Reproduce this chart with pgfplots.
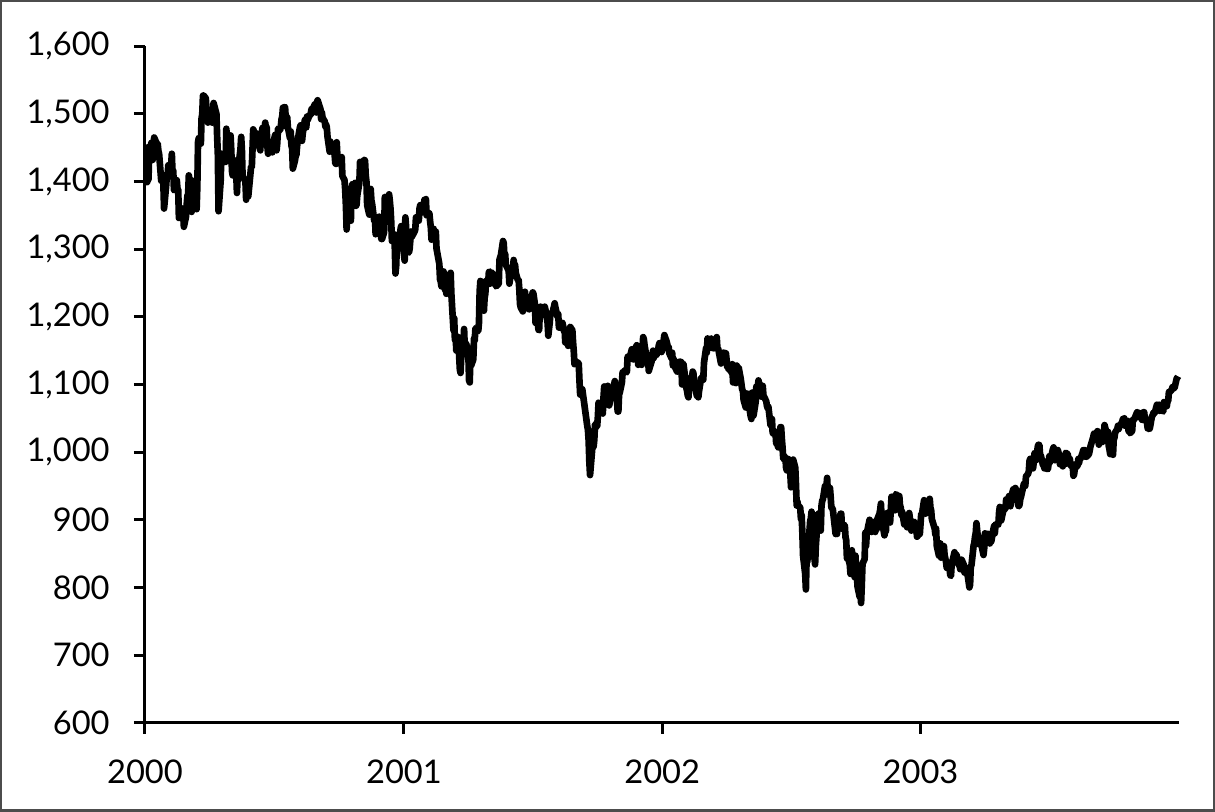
\documentclass[border=0pt]{standalone}
\usepackage{fontspec}
\setmainfont{Lato}
\usepackage{pgfplots}
\pgfplotsset{compat=1.18}
\usepgfplotslibrary{dateplot}

\begin{document}
\begin{tikzpicture}
\draw[line width=0.25mm, black!70] (0,0) rectangle (121.5mm,81.1mm);
\begin{axis}[
    at={(14.4mm,8.8mm)}, anchor=south west,
    scale only axis,
    width=103.6mm, height=67.8mm,
    date coordinates in=x,
    xmin=2000-01-01, xmax=2004-01-01,
    ymin=600, ymax=1600,
    xtick={2000-01-01,2001-01-01,2002-01-01,2003-01-01},
    xticklabel=\year,
    ytick={600,700,...,1600},
    axis lines=left,
    axis line style={-, line width=0.85pt},
    tick align=outside,
    major tick length=1.1mm,
    tick style={line width=0.85pt, black},
    tick label style={font=\fontsize{9.3}{11}\selectfont},
    yticklabel style={xshift=-1.2mm, /pgf/number format/1000 sep={,}, /pgf/number format/assume math mode=true},
    xticklabel style={yshift=-1.4mm},
    clip=false,
]
\addplot[black, line width=1.9pt, line join=round] table[x=date, y=v] {
date v
2000-01-03 1455
2000-01-04 1399
2000-01-05 1402
2000-01-06 1403
2000-01-07 1441
2000-01-10 1457
2000-01-11 1438
2000-01-12 1432
2000-01-13 1449
2000-01-14 1465
2000-01-18 1455
2000-01-19 1456
2000-01-20 1445
2000-01-21 1441
2000-01-24 1401
2000-01-25 1410
2000-01-26 1404
2000-01-27 1398
2000-01-28 1360
2000-01-31 1394
2000-02-01 1409
2000-02-02 1409
2000-02-03 1424
2000-02-04 1424
2000-02-07 1424
2000-02-08 1441
2000-02-09 1411
2000-02-10 1416
2000-02-11 1387
2000-02-14 1389
2000-02-15 1402
2000-02-16 1388
2000-02-17 1388
2000-02-18 1346
2000-02-22 1353
2000-02-23 1360
2000-02-24 1353
2000-02-25 1333
2000-02-28 1348
2000-02-29 1366
2000-03-01 1379
2000-03-02 1381
2000-03-03 1409
2000-03-06 1391
2000-03-07 1355
2000-03-08 1366
2000-03-09 1401
2000-03-10 1395
2000-03-13 1383
2000-03-14 1359
2000-03-15 1392
2000-03-16 1458
2000-03-17 1464
2000-03-20 1456
2000-03-21 1493
2000-03-22 1500
2000-03-23 1527
2000-03-24 1527
2000-03-27 1523
2000-03-28 1507
2000-03-29 1508
2000-03-30 1487
2000-03-31 1499
2000-04-03 1505
2000-04-04 1494
2000-04-05 1487
2000-04-06 1501
2000-04-07 1516
2000-04-10 1504
2000-04-11 1500
2000-04-12 1467
2000-04-13 1440
2000-04-14 1356
2000-04-17 1401
2000-04-18 1441
2000-04-19 1427
2000-04-20 1434
2000-04-24 1429
2000-04-25 1478
2000-04-26 1461
2000-04-27 1464
2000-04-28 1452
2000-05-01 1468
2000-05-02 1446
2000-05-03 1415
2000-05-04 1409
2000-05-05 1432
2000-05-08 1424
2000-05-09 1412
2000-05-10 1383
2000-05-11 1407
2000-05-12 1421
2000-05-15 1448
2000-05-16 1466
2000-05-17 1447
2000-05-18 1406
2000-05-19 1406
2000-05-22 1400
2000-05-23 1373
2000-05-24 1400
2000-05-25 1381
2000-05-26 1378
2000-05-30 1422
2000-05-31 1421
2000-06-01 1448
2000-06-02 1477
2000-06-05 1467
2000-06-06 1458
2000-06-07 1471
2000-06-08 1462
2000-06-09 1457
2000-06-12 1446
2000-06-13 1470
2000-06-14 1470
2000-06-15 1479
2000-06-16 1464
2000-06-19 1487
2000-06-20 1478
2000-06-21 1480
2000-06-22 1452
2000-06-23 1441
2000-06-26 1455
2000-06-27 1450
2000-06-28 1455
2000-06-29 1443
2000-06-30 1455
2000-07-03 1469
2000-07-05 1446
2000-07-06 1457
2000-07-07 1478
2000-07-10 1476
2000-07-11 1481
2000-07-12 1492
2000-07-13 1496
2000-07-14 1509
2000-07-17 1510
2000-07-18 1493
2000-07-19 1481
2000-07-20 1495
2000-07-21 1480
2000-07-24 1464
2000-07-25 1474
2000-07-26 1453
2000-07-27 1449
2000-07-28 1419
2000-07-31 1431
2000-08-01 1438
2000-08-02 1439
2000-08-03 1452
2000-08-04 1462
2000-08-07 1480
2000-08-08 1483
2000-08-09 1472
2000-08-10 1460
2000-08-11 1471
2000-08-14 1491
2000-08-15 1484
2000-08-16 1480
2000-08-17 1496
2000-08-18 1491
2000-08-21 1499
2000-08-22 1498
2000-08-23 1505
2000-08-24 1508
2000-08-25 1507
2000-08-28 1514
2000-08-29 1510
2000-08-30 1502
2000-08-31 1517
2000-09-01 1520
2000-09-05 1507
2000-09-06 1492
2000-09-07 1502
2000-09-08 1494
2000-09-11 1489
2000-09-12 1481
2000-09-13 1484
2000-09-14 1480
2000-09-15 1466
2000-09-18 1444
2000-09-19 1459
2000-09-20 1451
2000-09-21 1449
2000-09-22 1449
2000-09-25 1440
2000-09-26 1427
2000-09-27 1426
2000-09-28 1458
2000-09-29 1436
2000-10-02 1436
2000-10-03 1426
2000-10-04 1434
2000-10-05 1436
2000-10-06 1408
2000-10-09 1402
2000-10-10 1387
2000-10-11 1364
2000-10-12 1329
2000-10-13 1374
2000-10-16 1374
2000-10-17 1349
2000-10-18 1342
2000-10-19 1389
2000-10-20 1396
2000-10-23 1395
2000-10-24 1398
2000-10-25 1364
2000-10-26 1365
2000-10-27 1379
2000-10-30 1398
2000-10-31 1429
2000-11-01 1421
2000-11-02 1428
2000-11-03 1427
2000-11-06 1432
2000-11-07 1431
2000-11-08 1409
2000-11-09 1400
2000-11-10 1365
2000-11-13 1351
2000-11-14 1382
2000-11-15 1389
2000-11-16 1372
2000-11-17 1367
2000-11-20 1342
2000-11-21 1348
2000-11-22 1322
2000-11-24 1341
2000-11-27 1348
2000-11-28 1337
2000-11-29 1342
2000-11-30 1315
2000-12-01 1315
2000-12-04 1325
2000-12-05 1377
2000-12-06 1352
2000-12-07 1344
2000-12-08 1370
2000-12-11 1381
2000-12-12 1372
2000-12-13 1360
2000-12-14 1341
2000-12-15 1312
2000-12-18 1322
2000-12-19 1305
2000-12-20 1264
2000-12-21 1275
2000-12-22 1305
2000-12-26 1315
2000-12-27 1328
2000-12-28 1334
2000-12-29 1320
2001-01-02 1283
2001-01-03 1347
2001-01-04 1334
2001-01-05 1298
2001-01-08 1295
2001-01-09 1300
2001-01-10 1313
2001-01-11 1326
2001-01-12 1318
2001-01-16 1326
2001-01-17 1329
2001-01-18 1347
2001-01-19 1342
2001-01-22 1342
2001-01-23 1360
2001-01-24 1365
2001-01-25 1357
2001-01-26 1354
2001-01-29 1364
2001-01-30 1373
2001-01-31 1366
2001-02-01 1374
2001-02-02 1350
2001-02-05 1354
2001-02-06 1352
2001-02-07 1341
2001-02-08 1332
2001-02-09 1314
2001-02-12 1330
2001-02-13 1319
2001-02-14 1315
2001-02-15 1326
2001-02-16 1301
2001-02-20 1278
2001-02-21 1255
2001-02-22 1252
2001-02-23 1245
2001-02-26 1267
2001-02-27 1257
2001-02-28 1240
2001-03-01 1242
2001-03-02 1234
2001-03-05 1242
2001-03-06 1253
2001-03-07 1262
2001-03-08 1265
2001-03-09 1234
2001-03-12 1180
2001-03-13 1198
2001-03-14 1166
2001-03-15 1173
2001-03-16 1150
2001-03-19 1170
2001-03-20 1142
2001-03-21 1122
2001-03-22 1117
2001-03-23 1140
2001-03-26 1152
2001-03-27 1182
2001-03-28 1153
2001-03-29 1147
2001-03-30 1160
2001-04-02 1146
2001-04-03 1106
2001-04-04 1103
2001-04-05 1151
2001-04-06 1128
2001-04-09 1137
2001-04-10 1168
2001-04-11 1165
2001-04-12 1183
2001-04-16 1179
2001-04-17 1191
2001-04-18 1238
2001-04-19 1253
2001-04-20 1242
2001-04-23 1224
2001-04-24 1209
2001-04-25 1228
2001-04-26 1234
2001-04-27 1253
2001-04-30 1249
2001-05-01 1266
2001-05-02 1267
2001-05-03 1249
2001-05-04 1266
2001-05-07 1263
2001-05-08 1261
2001-05-09 1255
2001-05-10 1255
2001-05-11 1245
2001-05-14 1248
2001-05-15 1249
2001-05-16 1284
2001-05-17 1288
2001-05-18 1291
2001-05-21 1312
2001-05-22 1309
2001-05-23 1289
2001-05-24 1293
2001-05-25 1277
2001-05-29 1268
2001-05-30 1249
2001-05-31 1256
2001-06-01 1260
2001-06-04 1267
2001-06-05 1284
2001-06-06 1271
2001-06-07 1277
2001-06-08 1265
2001-06-11 1254
2001-06-12 1255
2001-06-13 1241
2001-06-14 1219
2001-06-15 1214
2001-06-18 1208
2001-06-19 1212
2001-06-20 1226
2001-06-21 1237
2001-06-22 1226
2001-06-25 1218
2001-06-26 1216
2001-06-27 1211
2001-06-28 1226
2001-06-29 1224
2001-07-02 1236
2001-07-03 1234
2001-07-05 1219
2001-07-06 1191
2001-07-09 1198
2001-07-10 1181
2001-07-11 1180
2001-07-12 1208
2001-07-13 1215
2001-07-16 1203
2001-07-17 1214
2001-07-18 1208
2001-07-19 1215
2001-07-20 1210
2001-07-23 1191
2001-07-24 1172
2001-07-25 1182
2001-07-26 1191
2001-07-27 1205
2001-07-30 1205
2001-07-31 1211
2001-08-01 1215
2001-08-02 1220
2001-08-03 1214
2001-08-06 1200
2001-08-07 1204
2001-08-08 1184
2001-08-09 1184
2001-08-10 1191
2001-08-13 1191
2001-08-14 1186
2001-08-15 1179
2001-08-16 1182
2001-08-17 1162
2001-08-20 1171
2001-08-21 1157
2001-08-22 1166
2001-08-23 1162
2001-08-24 1185
2001-08-27 1180
2001-08-28 1162
2001-08-29 1149
2001-08-30 1130
2001-08-31 1134
2001-09-04 1132
2001-09-05 1131
2001-09-06 1106
2001-09-07 1085
2001-09-10 1093
2001-09-17 1039
2001-09-18 1033
2001-09-19 1017
2001-09-20 985
2001-09-21 966
2001-09-24 1004
2001-09-25 1013
2001-09-26 1008
2001-09-27 1018
2001-09-28 1041
2001-10-01 1038
2001-10-02 1052
2001-10-03 1073
2001-10-04 1070
2001-10-05 1072
2001-10-08 1063
2001-10-09 1057
2001-10-10 1081
2001-10-11 1097
2001-10-12 1092
2001-10-15 1090
2001-10-16 1098
2001-10-17 1077
2001-10-18 1069
2001-10-19 1074
2001-10-22 1090
2001-10-23 1085
2001-10-24 1085
2001-10-25 1100
2001-10-26 1105
2001-10-29 1079
2001-10-30 1060
2001-10-31 1060
2001-11-01 1085
2001-11-02 1088
2001-11-05 1103
2001-11-06 1118
2001-11-07 1116
2001-11-08 1119
2001-11-09 1121
2001-11-12 1118
2001-11-13 1140
2001-11-14 1142
2001-11-15 1142
2001-11-16 1139
2001-11-19 1152
2001-11-20 1142
2001-11-21 1137
2001-11-23 1151
2001-11-26 1158
2001-11-27 1150
2001-11-28 1129
2001-11-29 1140
2001-11-30 1139
2001-12-03 1129
2001-12-04 1144
2001-12-05 1170
2001-12-06 1167
2001-12-07 1158
2001-12-10 1139
2001-12-11 1136
2001-12-12 1137
2001-12-13 1120
2001-12-14 1124
2001-12-17 1134
2001-12-18 1142
2001-12-19 1150
2001-12-20 1139
2001-12-21 1144
2001-12-24 1144
2001-12-26 1149
2001-12-27 1157
2001-12-28 1161
2001-12-31 1148
2002-01-02 1154
2002-01-03 1165
2002-01-04 1173
2002-01-07 1164
2002-01-08 1160
2002-01-09 1155
2002-01-10 1156
2002-01-11 1146
2002-01-14 1139
2002-01-15 1147
2002-01-16 1128
2002-01-17 1138
2002-01-18 1128
2002-01-22 1119
2002-01-23 1129
2002-01-24 1133
2002-01-25 1134
2002-01-28 1133
2002-01-29 1100
2002-01-30 1114
2002-01-31 1130
2002-02-01 1122
2002-02-04 1095
2002-02-05 1091
2002-02-06 1084
2002-02-07 1081
2002-02-08 1096
2002-02-11 1111
2002-02-12 1107
2002-02-13 1119
2002-02-14 1117
2002-02-15 1104
2002-02-19 1083
2002-02-20 1097
2002-02-21 1081
2002-02-22 1090
2002-02-25 1110
2002-02-26 1109
2002-02-27 1109
2002-02-28 1107
2002-03-01 1132
2002-03-04 1154
2002-03-05 1147
2002-03-06 1168
2002-03-07 1158
2002-03-08 1165
2002-03-11 1168
2002-03-12 1166
2002-03-13 1154
2002-03-14 1153
2002-03-15 1166
2002-03-18 1165
2002-03-19 1170
2002-03-20 1152
2002-03-21 1153
2002-03-22 1148
2002-03-25 1131
2002-03-26 1138
2002-03-27 1145
2002-03-28 1147
2002-04-01 1146
2002-04-02 1136
2002-04-03 1125
2002-04-04 1126
2002-04-05 1122
2002-04-08 1125
2002-04-09 1117
2002-04-10 1130
2002-04-11 1103
2002-04-12 1111
2002-04-15 1102
2002-04-16 1128
2002-04-17 1126
2002-04-18 1124
2002-04-19 1125
2002-04-22 1108
2002-04-23 1100
2002-04-24 1092
2002-04-25 1091
2002-04-26 1077
2002-04-29 1066
2002-04-30 1077
2002-05-01 1087
2002-05-02 1086
2002-05-03 1073
2002-05-06 1053
2002-05-07 1049
2002-05-08 1088
2002-05-09 1074
2002-05-10 1054
2002-05-13 1074
2002-05-14 1097
2002-05-15 1092
2002-05-16 1096
2002-05-17 1106
2002-05-20 1092
2002-05-21 1082
2002-05-22 1086
2002-05-23 1098
2002-05-24 1084
2002-05-28 1075
2002-05-29 1068
2002-05-30 1065
2002-05-31 1067
2002-06-03 1040
2002-06-04 1040
2002-06-05 1049
2002-06-06 1029
2002-06-07 1027
2002-06-10 1030
2002-06-11 1013
2002-06-12 1020
2002-06-13 1010
2002-06-14 1007
2002-06-17 1037
2002-06-18 1037
2002-06-19 1020
2002-06-20 1007
2002-06-21 990
2002-06-24 993
2002-06-25 977
2002-06-26 973
2002-06-27 990
2002-06-28 990
2002-07-01 968
2002-07-02 948
2002-07-03 953
2002-07-05 989
2002-07-08 977
2002-07-09 952
2002-07-10 921
2002-07-11 927
2002-07-12 921
2002-07-15 918
2002-07-16 901
2002-07-17 907
2002-07-18 881
2002-07-19 847
2002-07-22 820
2002-07-23 797
2002-07-24 843
2002-07-25 838
2002-07-26 852
2002-07-29 898
2002-07-30 902
2002-07-31 912
2002-08-01 885
2002-08-02 865
2002-08-05 834
2002-08-06 860
2002-08-07 876
2002-08-08 906
2002-08-09 909
2002-08-12 904
2002-08-13 884
2002-08-14 920
2002-08-15 928
2002-08-16 930
2002-08-19 950
2002-08-20 937
2002-08-21 949
2002-08-22 962
2002-08-23 940
2002-08-26 947
2002-08-27 934
2002-08-28 918
2002-08-29 917
2002-08-30 916
2002-09-03 879
2002-09-04 893
2002-09-05 879
2002-09-06 894
2002-09-09 902
2002-09-10 909
2002-09-11 909
2002-09-12 887
2002-09-13 889
2002-09-16 892
2002-09-17 874
2002-09-18 870
2002-09-19 843
2002-09-20 846
2002-09-23 834
2002-09-24 820
2002-09-25 840
2002-09-26 855
2002-09-27 827
2002-09-30 815
2002-10-01 847
2002-10-02 828
2002-10-03 819
2002-10-04 801
2002-10-07 786
2002-10-08 799
2002-10-09 777
2002-10-10 804
2002-10-11 835
2002-10-14 842
2002-10-15 881
2002-10-16 861
2002-10-17 880
2002-10-18 885
2002-10-21 900
2002-10-22 890
2002-10-23 896
2002-10-24 882
2002-10-25 897
2002-10-28 890
2002-10-29 882
2002-10-30 890
2002-10-31 886
2002-11-01 901
2002-11-04 909
2002-11-05 915
2002-11-06 924
2002-11-07 903
2002-11-08 895
2002-11-11 877
2002-11-12 883
2002-11-13 882
2002-11-14 905
2002-11-15 910
2002-11-18 901
2002-11-19 896
2002-11-20 915
2002-11-21 934
2002-11-22 930
2002-11-25 932
2002-11-26 914
2002-11-27 938
2002-11-29 936
2002-12-02 935
2002-12-03 921
2002-12-04 918
2002-12-05 907
2002-12-06 912
2002-12-09 893
2002-12-10 905
2002-12-11 905
2002-12-12 902
2002-12-13 889
2002-12-16 910
2002-12-17 902
2002-12-18 892
2002-12-19 884
2002-12-20 896
2002-12-23 897
2002-12-24 892
2002-12-26 889
2002-12-27 875
2002-12-30 879
2002-12-31 879
2003-01-02 909
2003-01-03 908
2003-01-06 929
2003-01-07 922
2003-01-08 909
2003-01-09 927
2003-01-10 927
2003-01-13 926
2003-01-14 931
2003-01-15 918
2003-01-16 914
2003-01-17 901
2003-01-21 887
2003-01-22 878
2003-01-23 887
2003-01-24 861
2003-01-27 847
2003-01-28 858
2003-01-29 865
2003-01-30 844
2003-01-31 856
2003-02-03 861
2003-02-04 848
2003-02-05 843
2003-02-06 838
2003-02-07 829
2003-02-10 835
2003-02-11 829
2003-02-12 818
2003-02-13 817
2003-02-14 834
2003-02-18 852
2003-02-19 846
2003-02-20 837
2003-02-21 848
2003-02-24 833
2003-02-25 839
2003-02-26 827
2003-02-27 837
2003-02-28 841
2003-03-03 834
2003-03-04 822
2003-03-05 829
2003-03-06 822
2003-03-07 829
2003-03-10 808
2003-03-11 800
2003-03-12 804
2003-03-13 831
2003-03-14 833
2003-03-17 862
2003-03-18 866
2003-03-19 875
2003-03-20 880
2003-03-21 895
2003-03-24 864
2003-03-25 874
2003-03-26 870
2003-03-27 869
2003-03-28 863
2003-03-31 848
2003-04-01 858
2003-04-02 880
2003-04-03 876
2003-04-04 879
2003-04-07 879
2003-04-08 878
2003-04-09 865
2003-04-10 871
2003-04-11 868
2003-04-14 886
2003-04-15 891
2003-04-16 880
2003-04-17 893
2003-04-21 893
2003-04-22 911
2003-04-23 919
2003-04-24 911
2003-04-25 899
2003-04-28 914
2003-04-29 917
2003-04-30 917
2003-05-01 916
2003-05-02 930
2003-05-05 926
2003-05-06 935
2003-05-07 930
2003-05-08 920
2003-05-09 933
2003-05-12 945
2003-05-13 942
2003-05-14 939
2003-05-15 947
2003-05-16 944
2003-05-19 921
2003-05-20 920
2003-05-21 923
2003-05-22 931
2003-05-23 934
2003-05-27 953
2003-05-28 953
2003-05-29 950
2003-05-30 964
2003-06-02 968
2003-06-03 972
2003-06-04 987
2003-06-05 990
2003-06-06 988
2003-06-09 976
2003-06-10 985
2003-06-11 998
2003-06-12 999
2003-06-13 988
2003-06-16 1010
2003-06-17 1011
2003-06-18 1010
2003-06-19 995
2003-06-20 995
2003-06-23 981
2003-06-24 983
2003-06-25 976
2003-06-26 986
2003-06-27 976
2003-06-30 975
2003-07-01 983
2003-07-02 994
2003-07-03 985
2003-07-07 1004
2003-07-08 1007
2003-07-09 1002
2003-07-10 988
2003-07-11 998
2003-07-14 1003
2003-07-15 999
2003-07-16 994
2003-07-17 982
2003-07-18 994
2003-07-21 979
2003-07-22 988
2003-07-23 989
2003-07-24 982
2003-07-25 999
2003-07-28 997
2003-07-29 990
2003-07-30 987
2003-07-31 990
2003-08-01 980
2003-08-04 982
2003-08-05 965
2003-08-06 967
2003-08-07 975
2003-08-08 977
2003-08-11 980
2003-08-12 990
2003-08-13 984
2003-08-14 990
2003-08-15 990
2003-08-18 999
2003-08-19 1003
2003-08-20 1000
2003-08-21 1003
2003-08-22 993
2003-08-25 994
2003-08-26 997
2003-08-27 997
2003-08-28 1002
2003-08-29 1008
2003-09-02 1022
2003-09-03 1027
2003-09-04 1028
2003-09-05 1021
2003-09-08 1031
2003-09-09 1024
2003-09-10 1011
2003-09-11 1017
2003-09-12 1019
2003-09-15 1015
2003-09-16 1030
2003-09-17 1026
2003-09-18 1040
2003-09-19 1036
2003-09-22 1022
2003-09-23 1030
2003-09-24 1009
2003-09-25 1004
2003-09-26 997
2003-09-29 1006
2003-09-30 996
2003-10-01 1019
2003-10-02 1021
2003-10-03 1029
2003-10-06 1034
2003-10-07 1039
2003-10-08 1034
2003-10-09 1039
2003-10-10 1039
2003-10-13 1045
2003-10-14 1049
2003-10-15 1046
2003-10-16 1050
2003-10-17 1039
2003-10-20 1044
2003-10-21 1046
2003-10-22 1031
2003-10-23 1033
2003-10-24 1028
2003-10-27 1031
2003-10-28 1047
2003-10-29 1049
2003-10-30 1048
2003-10-31 1051
2003-11-03 1059
2003-11-04 1053
2003-11-05 1052
2003-11-06 1058
2003-11-07 1053
2003-11-10 1048
2003-11-11 1047
2003-11-12 1059
2003-11-13 1059
2003-11-14 1050
2003-11-17 1044
2003-11-18 1035
2003-11-19 1042
2003-11-20 1034
2003-11-21 1035
2003-11-24 1053
2003-11-25 1054
2003-11-26 1058
2003-11-28 1058
2003-12-01 1070
2003-12-02 1066
2003-12-03 1064
2003-12-04 1070
2003-12-05 1061
2003-12-08 1069
2003-12-09 1061
2003-12-10 1060
2003-12-11 1074
2003-12-12 1072
2003-12-15 1068
2003-12-16 1075
2003-12-17 1076
2003-12-18 1089
2003-12-19 1089
2003-12-22 1092
2003-12-23 1096
2003-12-24 1094
2003-12-26 1095
2003-12-29 1109
2003-12-30 1110
2003-12-31 1112
};
\end{axis}
\end{tikzpicture}
\end{document}
